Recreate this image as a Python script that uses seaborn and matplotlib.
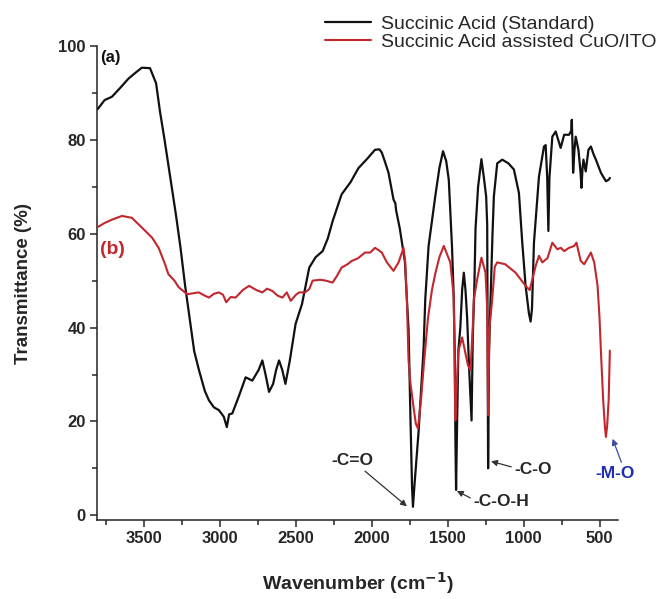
import numpy as np
import pandas as pd
import matplotlib
matplotlib.use("Agg")
import matplotlib.pyplot as plt
import seaborn as sns
from matplotlib.ticker import MultipleLocator

# ---- data ----
wn_a = [3805, 3760, 3712, 3660, 3602, 3550, 3515, 3461, 3421, 3395, 3365, 3330, 3290, 3260, 3230,
        3200, 3170, 3139, 3100, 3073, 3040, 3007, 2975, 2955, 2940, 2919, 2880, 2831, 2787, 2745,
        2721, 2700, 2677, 2650, 2630, 2611, 2590, 2569, 2540, 2502, 2460, 2412, 2370, 2324, 2290,
        2258, 2199, 2140, 2088, 2030, 1979, 1950, 1934, 1910, 1890, 1857, 1845, 1840, 1815, 1782,
        1769, 1758, 1745, 1735, 1729, 1720, 1692, 1659, 1648, 1626, 1582, 1555, 1531, 1510, 1493,
        1472, 1460, 1454, 1449, 1445, 1438, 1430, 1417, 1405, 1394, 1383, 1372, 1360, 1343, 1335,
        1325, 1317, 1300, 1278, 1262, 1247, 1240, 1234, 1228, 1205, 1196, 1174, 1141, 1100, 1064,
        1031, 1009, 987, 965, 954, 945, 932, 899, 866, 855, 845, 837, 830, 811, 789,
        756, 733, 701, 686, 683, 678, 674, 665, 657, 639, 625, 619, 612, 606, 591,
        573, 557, 540, 524, 491, 458, 440, 432]
t_a = [86.6, 88.5, 89.2, 91.0, 93.1, 94.5, 95.4, 95.3, 92.1, 86.0, 80.0, 72.5, 64.0, 57.0, 49.0,
       42.0, 35.0, 31.0, 26.5, 24.5, 23.0, 22.4, 21.0, 18.8, 21.5, 21.7, 25.0, 29.4, 28.7, 31.0,
       33.0, 30.0, 26.3, 28.0, 31.0, 33.0, 31.0, 28.0, 33.0, 40.8, 45.0, 52.8, 55.0, 56.3, 59.0,
       62.7, 68.4, 71.0, 74.0, 76.0, 77.9, 78.0, 77.3, 75.0, 73.0, 67.3, 66.5, 65.0, 61.0, 54.0,
       46.0, 39.7, 20.0, 6.0, 1.8, 6.0, 17.8, 35.5, 46.0, 57.4, 68.0, 74.0, 77.6, 75.5, 71.5,
       57.4, 46.0, 35.0, 15.0, 5.4, 20.0, 35.0, 40.0, 48.0, 51.7, 48.0, 42.0, 32.0, 20.2, 38.0,
       48.0, 61.0, 70.0, 75.9, 72.0, 68.0, 62.0, 10.0, 35.0, 60.0, 68.0, 75.0, 75.8, 75.0, 73.7,
       68.7, 58.1, 48.9, 43.0, 41.3, 44.0, 58.1, 72.2, 78.6, 78.9, 72.2, 60.6, 72.0, 80.7, 81.8,
       78.3, 81.1, 81.1, 82.0, 84.3, 79.0, 73.0, 78.0, 80.7, 77.9, 73.0, 69.8, 74.0, 75.8, 73.3,
       77.9, 78.6, 77.0, 75.8, 73.0, 71.2, 71.5, 71.9]

wn_b = [3807, 3760, 3712, 3646, 3580, 3514, 3448, 3404, 3362, 3340, 3300, 3272, 3216, 3180, 3139,
        3100, 3073, 3040, 3007, 2980, 2959, 2930, 2897, 2850, 2809, 2760, 2721, 2690, 2655, 2620,
        2589, 2560, 2534, 2500, 2478, 2440, 2412, 2390, 2340, 2302, 2258, 2230, 2199, 2160, 2133,
        2090, 2045, 2010, 1979, 1955, 1934, 1901, 1857, 1824, 1791, 1780, 1769, 1758, 1745, 1725,
        1710, 1696, 1675, 1655, 1630, 1604, 1582, 1555, 1526, 1483, 1461, 1455, 1450, 1440, 1430,
        1405, 1380, 1366, 1350, 1335, 1328, 1306, 1278, 1251, 1240, 1234, 1225, 1207, 1190, 1174,
        1121, 1053, 987, 960, 921, 899, 877, 843, 811, 778, 755, 733, 701, 667, 652,
        624, 601, 557, 535, 513, 500, 491, 476, 465, 458, 450, 440, 432]
t_b = [61.4, 62.3, 63.0, 63.8, 63.4, 61.3, 59.2, 57.0, 53.5, 51.4, 50.0, 48.6, 47.1, 47.3, 47.5,
       46.8, 46.4, 47.2, 47.5, 47.0, 45.4, 46.5, 46.4, 48.0, 48.9, 48.0, 47.5, 48.3, 47.8, 46.8,
       46.4, 47.5, 45.7, 47.0, 47.5, 47.5, 48.2, 50.0, 50.2, 50.0, 49.6, 51.0, 52.8, 53.5, 54.2,
       54.8, 56.0, 56.0, 57.0, 56.5, 56.0, 53.9, 52.1, 53.9, 57.0, 54.0, 46.0, 33.0, 28.0, 23.0,
       19.5, 18.5, 25.0, 33.0, 42.0, 48.0, 51.5, 55.0, 57.4, 53.9, 46.8, 35.0, 20.2, 28.0, 35.0,
       37.9, 34.0, 31.9, 30.9, 40.0, 46.0, 50.3, 54.9, 51.7, 44.0, 21.3, 40.0, 46.0, 53.0, 53.9,
       53.5, 51.7, 48.9, 48.0, 53.1, 55.3, 53.9, 54.8, 58.1, 56.7, 57.0, 56.3, 57.0, 57.4, 58.1,
       54.2, 53.5, 56.0, 53.9, 48.9, 42.0, 35.0, 24.5, 19.0, 16.7, 19.0, 24.5, 35.1]

series_names = ["Succinic Acid (Standard)", "Succinic Acid assisted CuO/ITO"]
x_ticks = [3500, 3000, 2500, 2000, 1500, 1000, 500]
y_ticks = [0, 20, 40, 60, 80, 100]

BLACK = "#111111"
RED = "#c1272d"
BLUE = "#1f2db0"

sns.set_style("ticks")
plt.rcParams["font.family"] = ["Liberation Sans", "DejaVu Sans"]

df_a = pd.DataFrame({"wn": wn_a, "T": t_a})
df_b = pd.DataFrame({"wn": wn_b, "T": t_b})

fig = plt.figure(figsize=(6.6, 5.99), dpi=100)
ax = fig.add_axes([0.147, 0.132, 0.789, 0.791])

sns.lineplot(data=df_a, x="wn", y="T", ax=ax, color=BLACK, lw=1.6, estimator=None,
             sort=False, label=series_names[0], zorder=2)
sns.lineplot(data=df_b, x="wn", y="T", ax=ax, color=RED, lw=1.5, estimator=None,
             sort=False, label=series_names[1], zorder=3)

ax.set_xlim(3810, 380)
ax.set_ylim(-1, 100)
ax.set_xticks(x_ticks)
ax.set_yticks(y_ticks)
ax.xaxis.set_minor_locator(MultipleLocator(250))
ax.yaxis.set_minor_locator(MultipleLocator(10))
ax.tick_params(axis="both", which="major", direction="out", length=5, width=1.1,
               labelsize=12, pad=3)
ax.tick_params(axis="both", which="minor", direction="out", length=3.5, width=1.1)
for lab in ax.get_xticklabels() + ax.get_yticklabels():
    lab.set_fontweight("bold")
for s in ["top", "right"]:
    ax.spines[s].set_visible(False)
for s in ["left", "bottom"]:
    ax.spines[s].set_linewidth(1.1)
    ax.spines[s].set_color("#222222")

ax.set_xlabel("Wavenumber (cm$^{\\mathbf{-1}}$)", fontsize=14, fontweight="bold", labelpad=17)
ax.set_ylabel("Transmittance (%)", fontsize=13.5, fontweight="bold", labelpad=19)

leg = ax.legend(loc="upper right", bbox_to_anchor=(0.995, 0.975),
                bbox_transform=fig.transFigure, frameon=False, fontsize=14,
                borderpad=0, borderaxespad=0, handlelength=2.4, handletextpad=0.5,
                labelspacing=0.05)

ax.text(3790, 97.5, "(a)", ha="left", va="center", fontsize=12, fontweight="bold", color=BLACK)
ax.text(3790, 56.7, "(b)", ha="left", va="center", fontsize=14, fontweight="bold", color=RED)

arrow_kw = dict(arrowstyle="-|>", color="#333333", lw=0.9, mutation_scale=9, shrinkA=0, shrinkB=0)
ax.annotate("-C=O", xy=(1769, 1.9), xytext=(2126, 11.7), ha="center", va="center",
            fontsize=12.5, fontweight="bold", arrowprops=dict(arrow_kw, relpos=(0.7, 0.0)))
ax.annotate("-C-O-H", xy=(1440, 5.2), xytext=(1330, 3.0), ha="left", va="center",
            fontsize=12.5, fontweight="bold", arrowprops=dict(arrow_kw, relpos=(0.0, 0.6)))
ax.annotate("-C-O", xy=(1215, 11.5), xytext=(1060, 9.8), ha="left", va="center",
            fontsize=12.5, fontweight="bold", arrowprops=dict(arrow_kw, relpos=(0.0, 0.6)))
ax.annotate("-M-O", xy=(414, 16.3), xytext=(400, 9.0), ha="center", va="center",
            fontsize=12.5, fontweight="bold", color=BLUE, annotation_clip=False,
            arrowprops=dict(arrow_kw, color="#3b4aa0", relpos=(0.7, 1.0)))

fig.savefig("out.png", dpi=100)
